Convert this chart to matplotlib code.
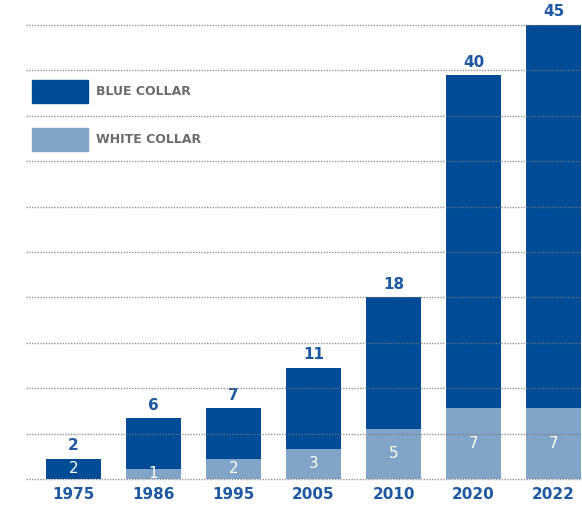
import matplotlib
matplotlib.use("Agg")
import matplotlib.pyplot as plt
from matplotlib.patches import Rectangle
import numpy as np

years = ['1975', '1986', '1995', '2005', '2010', '2020', '2022']
totals = [2, 6, 7, 11, 18, 40, 45]
white_collar = [0, 1, 2, 3, 5, 7, 7]
inner_labels = ['2', '1', '2', '3', '5', '7', '7']

DARK = '#004b96'
LIGHT = '#80a5c9'
LABEL = '#1d58a0'

plt.rcParams['font.family'] = ['DejaVu Sans']

blue_collar = [t - w for t, w in zip(totals, white_collar)]
x = np.arange(len(years))

fig = plt.figure(figsize=(5.82, 5.05), dpi=100)
ax = fig.add_axes([0.0447, 0.0515, 0.9553, 0.899])

# horizontal dotted grid, every 4.5, drawn over the bars
for g in np.arange(0, 45.1, 4.5):
    ax.axhline(g, color='#7a7a7a', lw=1.0, ls=(0, (1, 1)), zorder=4,
               alpha=0.8, clip_on=False)

w = 0.6875
ax.bar(x, white_collar, width=w, color=LIGHT, zorder=2)
ax.bar(x, blue_collar, width=w, bottom=white_collar, color=DARK, zorder=2)

for i in range(len(years)):
    # totals above each bar
    ax.annotate(str(totals[i]), (x[i], totals[i]), xytext=(0, 4),
                textcoords='offset points', ha='center', va='bottom',
                fontsize=11, color=LABEL, fontweight='bold', clip_on=False)
    # value inside the bottom segment
    if white_collar[i] > 0:
        ymid = white_collar[i] / 2
    else:
        ymid = totals[i] / 2
    ax.text(x[i], ymid, inner_labels[i], ha='center', va='center',
            fontsize=11, color='white', zorder=5)

ax.set_xlim(-0.594, 6.356)
ax.set_ylim(0, 45)
ax.set_xticks(x)
ax.set_xticklabels(years, fontsize=11, fontweight='bold', color=LABEL)
ax.tick_params(axis='x', length=0, pad=6)
ax.set_yticks([])
for s in ax.spines.values():
    s.set_visible(False)

# legend boxes and labels
fig.patches.append(Rectangle((0.055, 0.796), 0.0962, 0.0455, color=DARK,
                             transform=fig.transFigure, figure=fig))
fig.patches.append(Rectangle((0.055, 0.701), 0.0962, 0.0455, color=LIGHT,
                             transform=fig.transFigure, figure=fig))
fig.text(0.165, 0.819, 'BLUE COLLAR', fontsize=9, color='#6b6b6b',
         fontweight='bold', va='center')
fig.text(0.165, 0.724, 'WHITE COLLAR', fontsize=9, color='#6b6b6b',
         fontweight='bold', va='center')

fig.savefig('out.png', dpi=100)
